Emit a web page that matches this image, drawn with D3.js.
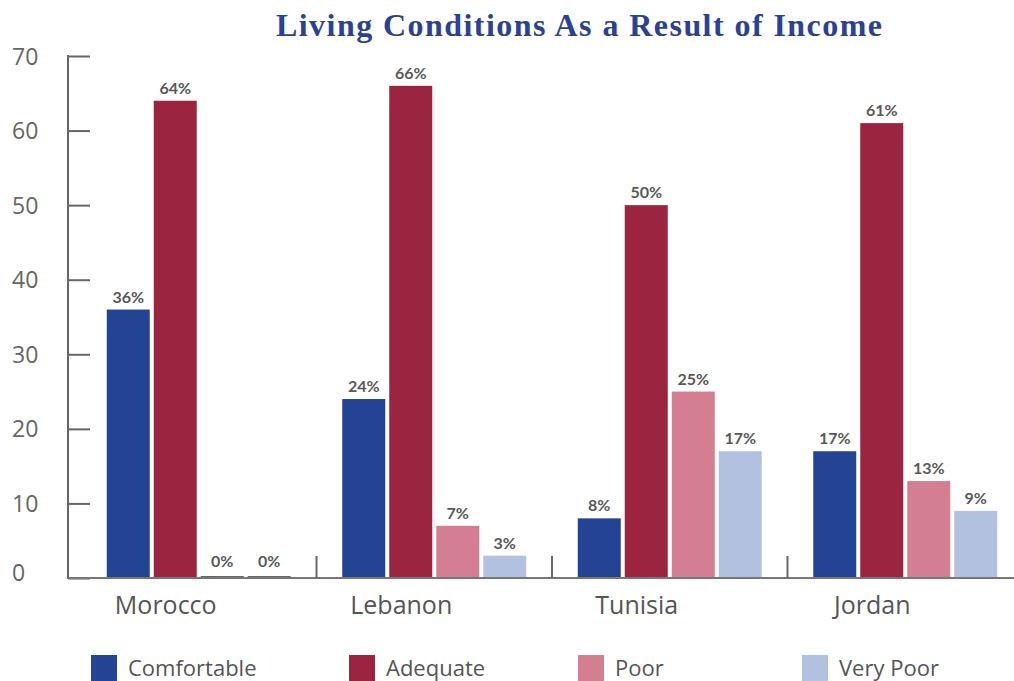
<!DOCTYPE html>
<html>
<head>
<meta charset="utf-8">
<script src="https://cdn.jsdelivr.net/npm/d3@7"></script>
<style>
  html, body { margin: 0; padding: 0; background: #fff; }
  svg { display: block; }
</style>
</head>
<body>
<svg id="chart" width="1014" height="681"></svg>
<script>
// ---- data ----
const countries = ["Morocco", "Lebanon", "Tunisia", "Jordan"];
const seriesNames = ["Comfortable", "Adequate", "Poor", "Very Poor"];
const comfortable = [36, 24, 8, 17];
const adequate = [64, 66, 50, 61];
const poor = [0, 7, 25, 13];
const veryPoor = [0, 3, 17, 9];
const yTicks = [0, 10, 20, 30, 40, 50, 60, 70];
const seriesColors = ["#234394", "#9b2540", "#d37f91", "#b3c1e0"];

const seriesValues = [comfortable, adequate, poor, veryPoor];

// ---- layout ----
const W = 1014, H = 681;
const axisX = 68;
const plotTop = 56, plotBottom = 578;
const legendX = [91, 349, 578, 802];

const svg = d3.select("#chart");

const y = d3.scaleLinear().domain([0, 70]).range([plotBottom, plotTop]);
const x0 = d3.scaleBand().domain(countries).range([81, 1023]).padding(0);
const groupW = 184;
const x1 = d3.scaleBand().domain(seriesNames)
  .range([(x0.bandwidth() - groupW) / 2, (x0.bandwidth() + groupW) / 2])
  .paddingInner(4 / 47).paddingOuter(0);
const color = d3.scaleOrdinal().domain(seriesNames).range(seriesColors);

// title
svg.append("text")
  .attr("x", 579).attr("y", 36)
  .attr("text-anchor", "middle")
  .attr("font-family", "'Liberation Serif', 'DejaVu Serif', serif")
  .attr("font-weight", "bold")
  .attr("font-size", 32)
  .attr("textLength", 606)
  .attr("lengthAdjust", "spacing")
  .attr("fill", "#2b4294")
  .text("Living Conditions As a Result of Income");

// bars
const rows = countries.map((c, i) => ({
  country: c,
  values: seriesNames.map((s, j) => ({ series: s, value: seriesValues[j][i] }))
}));

const groups = svg.append("g").selectAll("g").data(rows).join("g")
  .attr("transform", d => `translate(${x0(d.country)},0)`);

groups.selectAll("rect").data(d => d.values).join("rect")
  .attr("x", d => x1(d.series))
  .attr("y", d => d.value === 0 ? plotBottom - 2 : y(d.value))
  .attr("width", x1.bandwidth())
  .attr("height", d => d.value === 0 ? 2 : plotBottom - y(d.value))
  .attr("fill", d => d.value === 0 ? "#666" : color(d.series));

groups.selectAll("text").data(d => d.values).join("text")
  .attr("x", d => x1(d.series) + x1.bandwidth() / 2)
  .attr("y", d => y(d.value) - (d.value === 0 ? 11 : 7))
  .attr("text-anchor", "middle")
  .attr("font-family", "Lato, 'Open Sans', sans-serif")
  .attr("font-weight", "bold")
  .attr("font-size", 16)
  .attr("fill", "#595959")
  .text(d => d.value + "%");

// y axis
const yAxis = d3.axisRight(y).tickValues(yTicks).tickSize(22).tickFormat(d3.format("d"));
const gy = svg.append("g").attr("transform", `translate(${axisX},0)`).call(yAxis);
gy.select(".domain").remove();
gy.selectAll(".tick line").attr("stroke", "#666").attr("stroke-width", 2);
gy.selectAll(".tick text")
  .attr("x", 12 - axisX)
  .attr("dy", "0.35em")
  .attr("text-anchor", "start")
  .attr("font-family", "'Open Sans', sans-serif")
  .attr("font-size", 23)
  .attr("fill", "#666")
  .attr("font-weight", 400);
gy.selectAll(".tick").filter(d => d === 0).select("text").attr("dy", "0.1em");
svg.append("line")
  .attr("x1", axisX).attr("x2", axisX)
  .attr("y1", plotTop - 1).attr("y2", plotBottom)
  .attr("stroke", "#666").attr("stroke-width", 2);

// baseline
svg.append("line")
  .attr("x1", axisX - 1).attr("x2", W)
  .attr("y1", plotBottom).attr("y2", plotBottom)
  .attr("stroke", "#777").attr("stroke-width", 2);

// category separators
svg.append("g").selectAll("line").data(countries.slice(1)).join("line")
  .attr("x1", d => x0(d)).attr("x2", d => x0(d))
  .attr("y1", plotBottom - 22).attr("y2", plotBottom)
  .attr("stroke", "#666").attr("stroke-width", 2);

// category labels
const xAxis = d3.axisBottom(x0).tickSize(0).tickPadding(0);
const gx = svg.append("g").attr("transform", `translate(-33,${plotBottom})`).call(xAxis);
gx.select(".domain").remove();
gx.selectAll(".tick text")
  .attr("y", 36)
  .attr("dy", 0)
  .attr("font-family", "'Open Sans', sans-serif")
  .attr("font-size", 25)
  .attr("fill", "#555");

// legend
const legend = svg.append("g").selectAll("g").data(seriesNames).join("g")
  .attr("transform", (d, i) => `translate(${legendX[i]},655)`);
legend.append("rect")
  .attr("width", 26).attr("height", 26)
  .attr("fill", d => color(d));
legend.append("text")
  .attr("x", 37).attr("y", 13).attr("dy", "0.36em")
  .attr("font-family", "'Open Sans', sans-serif")
  .attr("font-size", 22)
  .attr("fill", "#555")
  .text(d => d);
</script>
</body>
</html>
